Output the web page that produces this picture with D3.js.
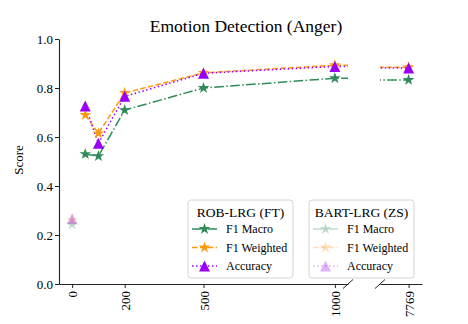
<!DOCTYPE html>
<html>
<head>
<meta charset="utf-8">
<script src="https://cdn.jsdelivr.net/npm/d3@7"></script>
<style>
  body { margin: 0; background: #fff; }
  text { font-family: "Liberation Serif", "Times New Roman", serif; fill: #000; }
</style>
</head>
<body>
<script>
var w = 468;
var h = 324;

// data
var xTicksLeft = [0, 200, 500, 1000];
var xTicksRight = [7769];
var yTicks = [0, 0.2, 0.4, 0.6, 0.8, 1.0];
var shots = [50, 100, 200, 500, 1000, 7769];
var robMacro = [0.53, 0.522, 0.71, 0.80, 0.84, 0.833];
var robWeighted = [0.69, 0.615, 0.78, 0.862, 0.893, 0.885];
var robAccuracy = [0.727, 0.574, 0.766, 0.86, 0.888, 0.882];
var bartShots = [0];
var bartMacro = [0.243];
var bartWeighted = [0.262];
var bartAccuracy = [0.266];
var seriesNames = ["F1 Macro", "F1 Weighted", "Accuracy"];

var colors = ["#2e8b57", "#ff9a10", "#9a00f5"];
var dashes = ["9.6,2.4,1.5,2.4", "5.5,2.4", "1.5,2.5"];
var symbols = ["star", "star", "tri"];

var plotTop = 39, plotBottom = 284;
var leftPanel = { x0: 59, x1: 348, dom: [-50, 1050] };
var rightPanel = { x0: 380, x1: 422, dom: [7660, 7820] };

var yScale = d3.scaleLinear().domain([0, 1]).range([plotBottom, plotTop]);
leftPanel.scale = d3.scaleLinear().domain(leftPanel.dom).range([leftPanel.x0, leftPanel.x1]);
rightPanel.scale = d3.scaleLinear().domain(rightPanel.dom).range([rightPanel.x0, rightPanel.x1]);

var svg = d3.select("body").append("svg")
    .attr("width", w)
    .attr("height", h);

function markerPath(type) {
    if (type == "star") {
        return d3.symbol().type(d3.symbolStar).size(42)();
    }
    var s = 5.5;
    return "M0," + (-s) + "L" + (-s) + "," + s + "L" + s + "," + s + "Z";
}

var robSeries = [robMacro, robWeighted, robAccuracy];
var bartSeries = [bartMacro, bartWeighted, bartAccuracy];

[leftPanel, rightPanel].forEach(function (p, pi) {
    var clipId = "clip" + pi;
    svg.append("clipPath").attr("id", clipId)
        .append("rect")
        .attr("x", p.x0).attr("y", plotTop - 10)
        .attr("width", p.x1 - p.x0).attr("height", plotBottom - plotTop + 10);
    var g = svg.append("g").attr("clip-path", "url(#" + clipId + ")");

    // zero-shot points (faded)
    bartSeries.forEach(function (vals, si) {
        g.selectAll(null)
            .data(vals)
            .enter()
            .append("path")
            .attr("d", markerPath(symbols[si]))
            .attr("transform", function (d, i) {
                return "translate(" + p.scale(bartShots[i]) + "," + yScale(d) + ")";
            })
            .attr("fill", colors[si])
            .attr("opacity", 0.3);
    });

    // fine-tuned lines
    robSeries.forEach(function (vals, si) {
        var line = d3.line()
            .x(function (d, i) { return p.scale(shots[i]); })
            .y(function (d) { return yScale(d); });
        g.append("path")
            .datum(vals)
            .attr("d", line)
            .attr("fill", "none")
            .attr("stroke", colors[si])
            .attr("stroke-width", 1.5)
            .attr("stroke-dasharray", dashes[si]);
    });
    robSeries.forEach(function (vals, si) {
        g.selectAll(null)
            .data(vals)
            .enter()
            .append("path")
            .attr("d", markerPath(symbols[si]))
            .attr("transform", function (d, i) {
                return "translate(" + p.scale(shots[i]) + "," + yScale(d) + ")";
            })
            .attr("fill", colors[si]);
    });

    // bottom axis
    var ticks = pi == 0 ? xTicksLeft : xTicksRight;
    var ax = svg.append("g").attr("transform", "translate(0," + plotBottom + ")");
    ax.call(d3.axisBottom(p.scale).tickValues(ticks).tickSize(4).tickSizeOuter(0).tickFormat(d3.format("d")));
    ax.select(".domain").attr("stroke", "#222").attr("stroke-width", 1.1);
    ax.selectAll(".tick line").attr("stroke", "#222");
    ax.selectAll(".tick text")
        .attr("font-family", "Liberation Serif")
        .attr("font-size", 13)
        .attr("transform", "rotate(-90)")
        .attr("text-anchor", "end")
        .attr("x", -7)
        .attr("y", 0)
        .attr("dy", "0.35em");
});

// y axis
var yAx = svg.append("g").attr("transform", "translate(" + leftPanel.x0 + ",0)");
yAx.call(d3.axisLeft(yScale).tickValues(yTicks).tickSize(4).tickSizeOuter(0).tickFormat(d3.format(".1f")));
yAx.select(".domain").attr("stroke", "#222").attr("stroke-width", 1.1);
yAx.selectAll(".tick line").attr("stroke", "#222");
yAx.selectAll(".tick text")
    .attr("font-family", "Liberation Serif")
    .attr("font-size", 13)
    .attr("x", -6);

// break marks
[leftPanel.x1, rightPanel.x0].forEach(function (x) {
    svg.append("line")
        .attr("x1", x - 5).attr("y1", plotBottom + 4.5)
        .attr("x2", x + 5).attr("y2", plotBottom - 4.5)
        .attr("stroke", "#222").attr("stroke-width", 1);
});

// titles
svg.append("text")
    .attr("x", 246).attr("y", 32)
    .attr("text-anchor", "middle")
    .attr("font-size", 17.5)
    .text("Emotion Detection (Anger)");

svg.append("text")
    .attr("transform", "translate(23,160) rotate(-90)")
    .attr("text-anchor", "middle")
    .attr("font-size", 13)
    .text("Score");

// legends
function legend(x0, title, alpha) {
    var lg = svg.append("g").attr("transform", "translate(" + x0 + ",200)");
    lg.append("rect")
        .attr("width", 105).attr("height", 78)
        .attr("rx", 3)
        .attr("fill", "#fff").attr("fill-opacity", 0.8)
        .attr("stroke", "#d4d4d4");
    lg.append("text")
        .attr("x", 52.5).attr("y", 17)
        .attr("text-anchor", "middle")
        .attr("font-size", 13.5)
        .text(title);
    seriesNames.forEach(function (name, si) {
        var yy = 29 + si * 18.5;
        lg.append("line")
            .attr("x1", 4).attr("x2", 29)
            .attr("y1", yy).attr("y2", yy)
            .attr("stroke", colors[si])
            .attr("stroke-width", 1.5)
            .attr("stroke-dasharray", dashes[si])
            .attr("opacity", alpha);
        lg.append("path")
            .attr("d", markerPath(symbols[si]))
            .attr("transform", "translate(16.5," + yy + ")")
            .attr("fill", colors[si])
            .attr("opacity", alpha);
        lg.append("text")
            .attr("x", 38).attr("y", yy)
            .attr("dy", "0.35em")
            .attr("font-size", 12)
            .text(name);
    });
}
legend(188, "ROB-LRG (FT)", 1);
legend(309, "BART-LRG (ZS)", 0.3);
</script>
</body>
</html>
